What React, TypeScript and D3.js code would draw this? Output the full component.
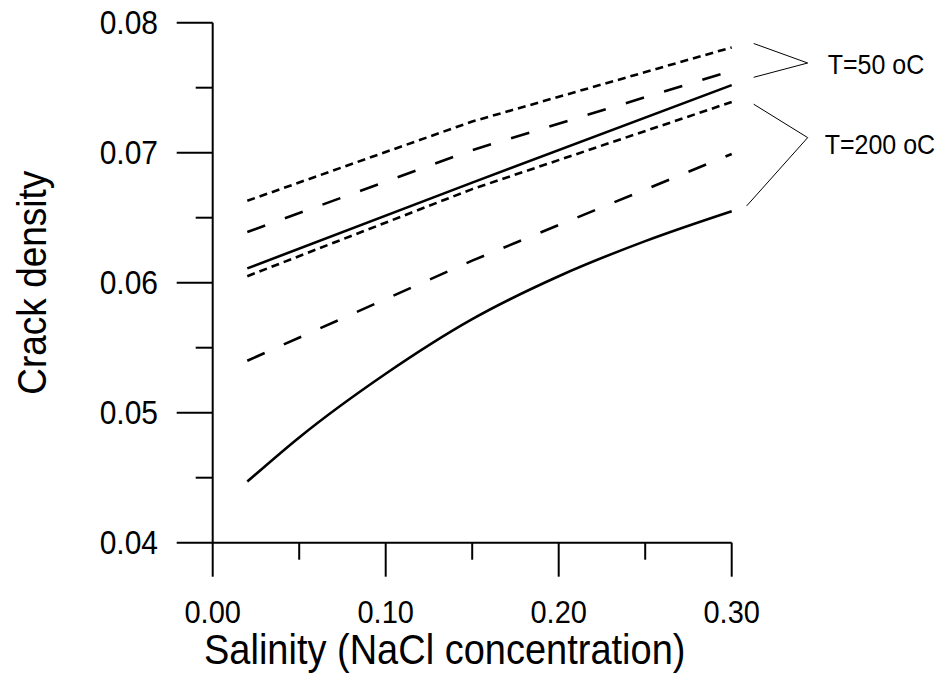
import React from "react";
import * as d3 from "d3";

// ---- data ----
const salinityPts = [0.02, 0.15, 0.3];
const t50Short = [0.0663, 0.0724, 0.0781];
const t50Long = [0.0639, 0.0702, 0.0763];
const t50Solid = [0.0611, 0.0677, 0.0752];
const t200Short = [0.0605, 0.0672, 0.0739];
const t200Long = [0.054, 0.0617, 0.0699];
const salinityCurve = [0.02, 0.05, 0.1, 0.15, 0.2, 0.25, 0.3];
const t200Solid = [0.0447, 0.0481, 0.053, 0.0572, 0.0605, 0.0632, 0.0655];

const xMajor = [0, 0.1, 0.2, 0.3];
const xMajorLabels = ["0.00", "0.10", "0.20", "0.30"];
const xMinor = [0.05, 0.15, 0.25];
const yMajor = [0.04, 0.05, 0.06, 0.07, 0.08];
const yMajorLabels = ["0.04", "0.05", "0.06", "0.07", "0.08"];
const yMinor = [0.045, 0.055, 0.065, 0.075];

// bracket annotations: [top, apex, bottom] in data units
const bracket50 = [0.0784, 0.0769, 0.0758];
const bracket200 = [0.07373, 0.07116, 0.06591];
const label50 = "T=50 oC";
const label200 = "T=200 oC";
const label50Y = 0.07675;
const label200Y = 0.0706;

const W = 935;
const H = 679;
const FONT = "'Liberation Sans', Arial, sans-serif";
const SY = 1.1; // slight vertical stretch of the lettering

function T({
  x,
  y,
  size,
  anchor = "start",
  rotate = 0,
  children,
}: {
  x: number;
  y: number;
  size: number;
  anchor?: string;
  rotate?: number;
  children: React.ReactNode;
}) {
  return (
    <text
      transform={`translate(${x},${y}) rotate(${rotate}) scale(1,${SY})`}
      textAnchor={anchor}
      fontSize={size}
      fill="#000"
    >
      {children}
    </text>
  );
}

export default function App() {
  const x = d3.scaleLinear().domain([0, 0.3]).range([212.7, 731.7]);
  const y = d3.scaleLinear().domain([0.04, 0.08]).range([542.7, 22.7]);

  const lin = d3
    .line<[number, number]>()
    .x((d) => x(d[0]))
    .y((d) => y(d[1]));
  const curve = d3
    .line<[number, number]>()
    .x((d) => x(d[0]))
    .y((d) => y(d[1]))
    .curve(d3.curveMonotoneX);

  const zip = (xs: number[], ys: number[]) =>
    xs.map((v, i) => [v, ys[i]] as [number, number]);

  const series = [
    { d: lin(zip(salinityPts, t50Short)), dash: "8,5" },
    { d: lin(zip(salinityPts, t50Long)), dash: "19,21" },
    { d: lin(zip(salinityPts, t50Solid)), dash: "none" },
    { d: lin(zip(salinityPts, t200Short)), dash: "8,5" },
    { d: lin(zip(salinityPts, t200Long)), dash: "19,21" },
    { d: curve(zip(salinityCurve, t200Solid)), dash: "none" },
  ];

  const xEnd = x(0.3);
  const bx0 = xEnd + 22;
  const bx1 = xEnd + 76;

  const x0 = x(0);
  const y0 = y(0.04);

  return (
    <svg
      width={W}
      height={H}
      style={{ position: "absolute", left: 0, top: 0, background: "#fff" }}
      fontFamily={FONT}
    >
      <rect x={0} y={0} width={W} height={H} fill="#fff" />
      {/* axes */}
      <line x1={x0} y1={y(0.08)} x2={x0} y2={y0} stroke="#000" strokeWidth={2} />
      <line x1={x0} y1={y0} x2={x(0.3)} y2={y0} stroke="#000" strokeWidth={2} />
      {yMajor.map((v, i) => (
        <g key={"ym" + i}>
          <line x1={x0 - 36} x2={x0} y1={y(v)} y2={y(v)} stroke="#000" strokeWidth={2} />
          <T x={158} y={y(v) + 11.5} size={30} anchor="end">
            {yMajorLabels[i]}
          </T>
        </g>
      ))}
      {yMinor.map((v, i) => (
        <line key={"yn" + i} x1={x0 - 17} x2={x0} y1={y(v)} y2={y(v)} stroke="#000" strokeWidth={2} />
      ))}
      {xMajor.map((v, i) => (
        <g key={"xm" + i}>
          <line x1={x(v)} x2={x(v)} y1={y0} y2={y0 + 34} stroke="#000" strokeWidth={2} />
          <T x={x(v)} y={623} size={29} anchor="middle">
            {xMajorLabels[i]}
          </T>
        </g>
      ))}
      {xMinor.map((v, i) => (
        <line key={"xn" + i} x1={x(v)} x2={x(v)} y1={y0} y2={y0 + 17} stroke="#000" strokeWidth={2} />
      ))}
      <T x={204} y={664} size={38}>
        Salinity (NaCl concentration)
      </T>
      <T x={46} y={(y(0.08) + y0) / 2} size={37} anchor="middle" rotate={-90}>
        Crack density
      </T>
      {/* series */}
      {series.map((s, i) => (
        <path
          key={"s" + i}
          d={s.d || ""}
          fill="none"
          stroke="#000"
          strokeWidth={2.6}
          strokeDasharray={s.dash}
        />
      ))}
      {/* brackets */}
      <polyline
        points={`${bx0},${y(bracket50[0])} ${bx1},${y(bracket50[1])} ${bx0},${y(bracket50[2])}`}
        fill="none"
        stroke="#000"
        strokeWidth={1}
      />
      <polyline
        points={`${bx0},${y(bracket200[0])} ${bx1},${y(bracket200[1])} ${bx0 - 7},${y(bracket200[2])}`}
        fill="none"
        stroke="#000"
        strokeWidth={1}
      />
      <T x={xEnd + 96} y={y(label50Y) + 9.5} size={25}>
        {label50}
      </T>
      <T x={xEnd + 93} y={y(label200Y) + 9.5} size={25}>
        {label200}
      </T>
    </svg>
  );
}
